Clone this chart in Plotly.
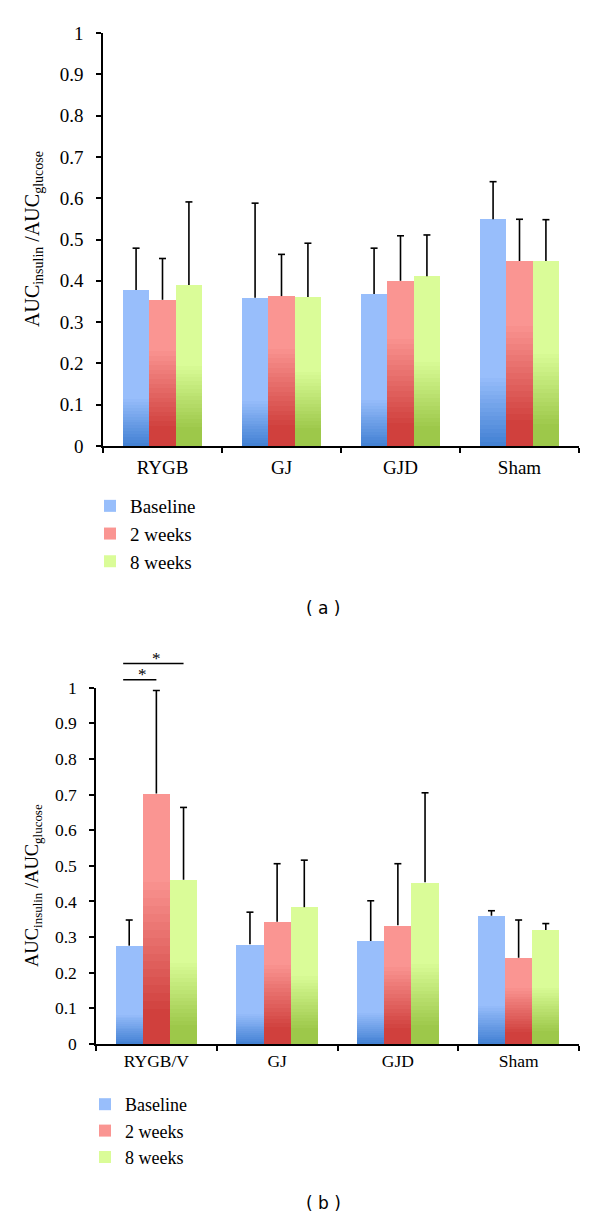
import plotly.graph_objects as go

# ---------------- data ----------------
categories_a = ["RYGB", "GJ", "GJD", "Sham"]
categories_b = ["RYGB/V", "GJ", "GJD", "Sham"]
series_names = ["Baseline", "2 weeks", "8 weeks"]

a_baseline = [0.378, 0.359, 0.368, 0.549]
a_2weeks = [0.354, 0.363, 0.400, 0.448]
a_8weeks = [0.390, 0.361, 0.411, 0.448]
a_baseline_err = [0.101, 0.229, 0.111, 0.091]
a_2weeks_err = [0.100, 0.101, 0.109, 0.101]
a_8weeks_err = [0.201, 0.130, 0.100, 0.100]

b_baseline = [0.276, 0.280, 0.289, 0.360]
b_2weeks = [0.703, 0.343, 0.333, 0.242]
b_8weeks = [0.461, 0.384, 0.454, 0.320]
b_baseline_err = [0.072, 0.090, 0.113, 0.014]
b_2weeks_err = [0.289, 0.163, 0.173, 0.106]
b_8weeks_err = [0.203, 0.132, 0.251, 0.018]

y_ticks = [0, 0.1, 0.2, 0.3, 0.4, 0.5, 0.6, 0.7, 0.8, 0.9, 1]
y_tick_labels = ["0", "0.1", "0.2", "0.3", "0.4", "0.5", "0.6", "0.7", "0.8", "0.9", "1"]

# significance brackets in panel (b): (category index, from series, to series, level)
sig_pairs = [(0, 0, 1, 1.022), (0, 0, 2, 1.068)]

# ---------------- style ----------------
W, H = 600, 1218
light = ["#98BEFB", "#FA9592", "#DAFC98"]
dark = ["#3F7ED2", "#D0403D", "#9DC84A"]
grad_start = [0.32, 0.68, 0.52]   # fraction of bar height where gradient begins
grad_end = [0.0, 0.14, 0.12]      # fraction of bar height where darkest colour reached
N = 18
SERIF = "Liberation Serif"


def hex2rgb(h):
    h = h.lstrip("#")
    return [int(h[i:i + 2], 16) for i in (0, 2, 4)]


def mix(c1, c2, t):
    a, b = hex2rgb(c1), hex2rgb(c2)
    return "rgb(%d,%d,%d)" % tuple(round(a[i] + (b[i] - a[i]) * t) for i in range(3))


fig = go.Figure()

panels = [
    dict(cats=categories_a, vals=[a_baseline, a_2weeks, a_8weeks],
         errs=[a_baseline_err, a_2weeks_err, a_8weeks_err],
         xa="x", ya="y", legend="legend", bw=0.222,
         xdom=(103, 579), ydom=(446, 33)),
    dict(cats=categories_b, vals=[b_baseline, b_2weeks, b_8weeks],
         errs=[b_baseline_err, b_2weeks_err, b_8weeks_err],
         xa="x2", ya="y2", legend="legend2", bw=0.225,
         xdom=(96, 579), ydom=(1044, 687.7)),
]

for p in panels:
    bw = p["bw"]
    for s in range(3):
        off = (s - 1) * bw
        xs = [i + off for i in range(len(p["cats"]))]
        vals = p["vals"][s]
        fig.add_trace(go.Bar(
            x=xs, y=vals, width=bw, name=series_names[s],
            marker=dict(color=light[s], line=dict(width=0)),
            xaxis=p["xa"], yaxis=p["ya"], legend=p["legend"],
            hoverinfo="skip"))
        for k in range(N):
            t = k / (N - 1)
            f = grad_start[s] - (grad_start[s] - grad_end[s]) * t
            if f <= 0:
                continue
            fig.add_trace(go.Bar(
                x=xs, y=[v * f for v in vals], width=bw,
                marker=dict(color=mix(light[s], dark[s], t), line=dict(width=0)),
                xaxis=p["xa"], yaxis=p["ya"], showlegend=False, hoverinfo="skip"))
        if grad_end[s] > 0:
            fig.add_trace(go.Bar(
                x=xs, y=[v * grad_end[s] for v in vals], width=bw,
                marker=dict(color=dark[s], line=dict(width=0)),
                xaxis=p["xa"], yaxis=p["ya"], showlegend=False, hoverinfo="skip"))
    # error bars (upper only)
    for s in range(3):
        off = (s - 1) * bw
        ex, ey, cx, cy = [], [], [], []
        for i, (v, e) in enumerate(zip(p["vals"][s], p["errs"][s])):
            ex += [i + off, i + off, None]
            ey += [v, v + e, None]
            cx.append(i + off)
            cy.append(v + e)
        fig.add_trace(go.Scatter(x=ex, y=ey, mode="lines",
                                 line=dict(color="black", width=1.6),
                                 xaxis=p["xa"], yaxis=p["ya"], showlegend=False,
                                 hoverinfo="skip"))
        fig.add_trace(go.Scatter(x=cx, y=cy, mode="markers",
                                 marker=dict(symbol="line-ew", size=5,
                                             line=dict(color="black", width=1.6)),
                                 xaxis=p["xa"], yaxis=p["ya"], showlegend=False,
                                 hoverinfo="skip"))

# ---------------- axes ----------------
def xdom(px):
    return [px[0] / W, px[1] / W]


def ydom(px):
    return [(H - px[0]) / H, (H - px[1]) / H]


common_x = dict(range=[-0.5, 3.5], tickvals=[0, 1, 2, 3], ticks="",
                showline=True, linecolor="black", linewidth=1.5,
                showgrid=False, zeroline=False, fixedrange=True, automargin=False,
                minor=dict(tickvals=[-0.5, 0.5, 1.5, 2.5, 3.5], ticks="outside",
                           ticklen=5, tickcolor="black", tickwidth=1.5, showgrid=False))
common_y = dict(range=[0, 1], tickvals=y_ticks, ticktext=y_tick_labels,
                ticks="outside", ticklen=5, tickcolor="black", tickwidth=1.5,
                showline=True, linecolor="black", linewidth=1.5, automargin=False,
                showgrid=False, zeroline=False, fixedrange=True)

fig.update_layout(
    xaxis=dict(common_x, domain=xdom(panels[0]["xdom"]), anchor="y",
               ticktext=categories_a, ticklabelstandoff=3,
               tickfont=dict(family=SERIF, size=19, color="black")),
    yaxis=dict(common_y, domain=ydom(panels[0]["ydom"]), anchor="x",
               ticklabelstandoff=9,
               tickfont=dict(family=SERIF, size=19, color="black")),
    xaxis2=dict(common_x, domain=xdom(panels[1]["xdom"]), anchor="y2",
                ticktext=categories_b, ticklabelstandoff=0,
                tickfont=dict(family=SERIF, size=17.5, color="black")),
    yaxis2=dict(common_y, domain=ydom(panels[1]["ydom"]), anchor="x2",
                ticklabelstandoff=9,
                tickfont=dict(family=SERIF, size=17.5, color="black")),
)

fig.update_layout(
    width=W, height=H,
    margin=dict(l=0, r=0, t=0, b=0, autoexpand=False),
    paper_bgcolor="white", plot_bgcolor="white",
    barmode="overlay", bargap=0,
    showlegend=True,
    legend=dict(x=90 / W, y=(H - 487) / H, xanchor="left", yanchor="top",
                font=dict(family=SERIF, size=19, color="black"),
                bgcolor="rgba(0,0,0,0)", traceorder="normal", tracegroupgap=0),
    legend2=dict(x=85 / W, y=(H - 1086) / H, xanchor="left", yanchor="top",
                 font=dict(family=SERIF, size=18, color="black"),
                 bgcolor="rgba(0,0,0,0)", traceorder="normal", tracegroupgap=0),
)

annotations = [
    dict(text="AUC<sub>insulin</sub> /AUC<sub>glucose</sub>", x=33 / W, y=(H - 239) / H,
         xref="paper", yref="paper", textangle=-90, showarrow=False,
         xanchor="center", yanchor="middle",
         font=dict(family=SERIF, size=20, color="black")),
    dict(text="AUC<sub>insulin</sub> /AUC<sub>glucose</sub>", x=33 / W, y=(H - 886) / H,
         xref="paper", yref="paper", textangle=-90, showarrow=False,
         xanchor="center", yanchor="middle",
         font=dict(family=SERIF, size=18.5, color="black")),
    dict(text="( a )", x=323 / W, y=(H - 608) / H, xref="paper", yref="paper",
         xanchor="center", yanchor="middle",
         showarrow=False, font=dict(family="DejaVu Sans", size=17, color="black")),
    dict(text="( b )", x=323 / W, y=(H - 1203) / H, xref="paper", yref="paper",
         xanchor="center", yanchor="middle",
         showarrow=False, font=dict(family="DejaVu Sans", size=17, color="black")),
]

# significance brackets converted from data units to paper coordinates (panel b)
pb = panels[1]
bx0, bx1 = pb["xdom"][0] / W, pb["xdom"][1] / W
by0, by1 = (H - pb["ydom"][0]) / H, (H - pb["ydom"][1]) / H
shapes = []
for cat, s_from, s_to, level in sig_pairs:
    xa = cat + (s_from - 1) * pb["bw"] - 0.05
    xb = cat + (s_to - 1) * pb["bw"]
    pxa = bx0 + (xa + 0.5) / 4 * (bx1 - bx0)
    pxb = bx0 + (xb + 0.5) / 4 * (bx1 - bx0)
    py = by0 + level * (by1 - by0)
    shapes.append(dict(type="line", xref="paper", yref="paper", x0=pxa, x1=pxb,
                       y0=py, y1=py, line=dict(color="black", width=1.5)))
    annotations.append(dict(text="*", x=(pxa + pxb) / 2 + 3 / W, y=py + 5 / H,
                            xref="paper", yref="paper", showarrow=False,
                            xanchor="center", yanchor="middle",
                            font=dict(family=SERIF, size=17, color="black")))

fig.update_layout(annotations=annotations, shapes=shapes)

# remove the browser's default 8px body margin so the figure fills the window exactly
fig.write_html("out.html", config={"displayModeBar": False},
               post_script="document.body.style.margin='0';")
